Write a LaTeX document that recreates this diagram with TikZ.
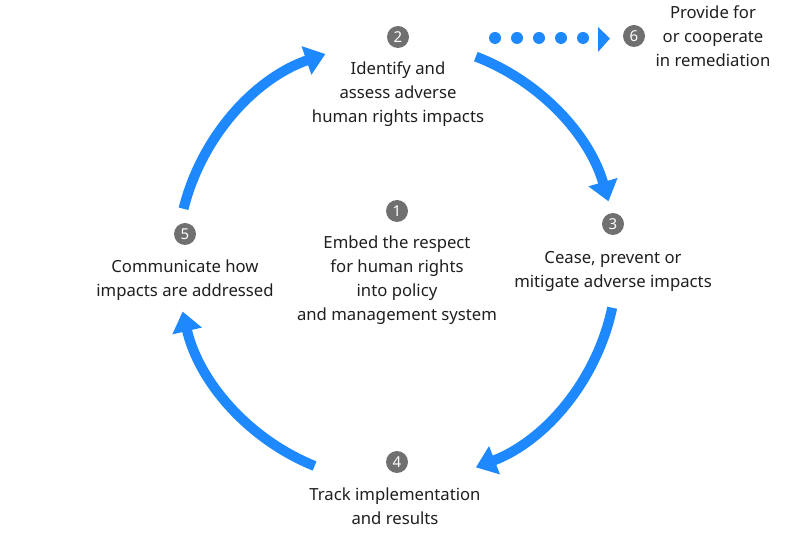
\documentclass[tikz,border=0pt]{standalone}
\usepackage{fontspec}
\setmainfont{Noto Sans}
\usetikzlibrary{arrows.meta}
\definecolor{cycleblue}{RGB}{30,136,255}
\definecolor{numgray}{RGB}{112,112,112}
\begin{document}
\begin{tikzpicture}[x=1pt,y=1pt,
  numbadge/.style={circle,fill=numgray,text=white,minimum size=22pt,inner sep=0pt,font=\fontsize{15}{15}\selectfont},
  steptext/.style={align=center,text=black!88,font=\fontsize{16.7}{24}\selectfont,inner sep=0pt},
  cyclearrow/.style={draw=cycleblue,line width=10pt,-{Triangle[width=29pt,length=20pt]}},
  dotline/.style={draw=cycleblue,line width=12pt,line cap=round,dash pattern=on 0pt off 22pt}
]
\useasboundingbox (0,0) rectangle (804,544);
\coordinate (c) at (397,282);
% badges
\node[numbadge] (b1) at (397,333) {1};
\node[numbadge] (b2) at (398,507) {2};
\node[numbadge] (b3) at (613,320) {3};
\node[numbadge] (b4) at (397,82) {4};
\node[numbadge] (b5) at (185,310) {5};
\node[numbadge] (b6) at (634,508) {6};
% texts
\node[steptext] (t1) at (397,264) {Embed the respect\\for human rights\\into policy\\and management system};
\node[steptext] (t2) at (398,450) {Identify and\\assess adverse\\human rights impacts};
\node[steptext] (t3) at (613,273) {Cease, prevent or\\mitigate adverse impacts};
\node[steptext] (t4) at (395,38) {Track implementation\\and results};
\node[steptext] (t5) at (185,264) {Communicate how\\impacts are addressed};
\node[steptext] (t6) at (713,508) {Provide for\\or cooperate\\in remediation};
% cycle arrows
\draw[cyclearrow] (c) ++(166:220) arc[start angle=166,end angle=109,radius=220];
\draw[cyclearrow] (c) ++(69:220) arc[start angle=69,end angle=16,radius=220];
\draw[cyclearrow] (c) ++(-12:220) arc[start angle=-12,end angle=-69,radius=220];
\draw[cyclearrow] (c) ++(248:220) arc[start angle=248,end angle=193,radius=220];
% dotted arrow to 6
\coordinate (d0) at (495,506);
\coordinate (d1) at (584,506);
\draw[dotline] (d0) -- (d1);
\fill[cycleblue] (598,517) -- (610,505.5) -- (598,492) -- cycle;
\end{tikzpicture}
\end{document}
